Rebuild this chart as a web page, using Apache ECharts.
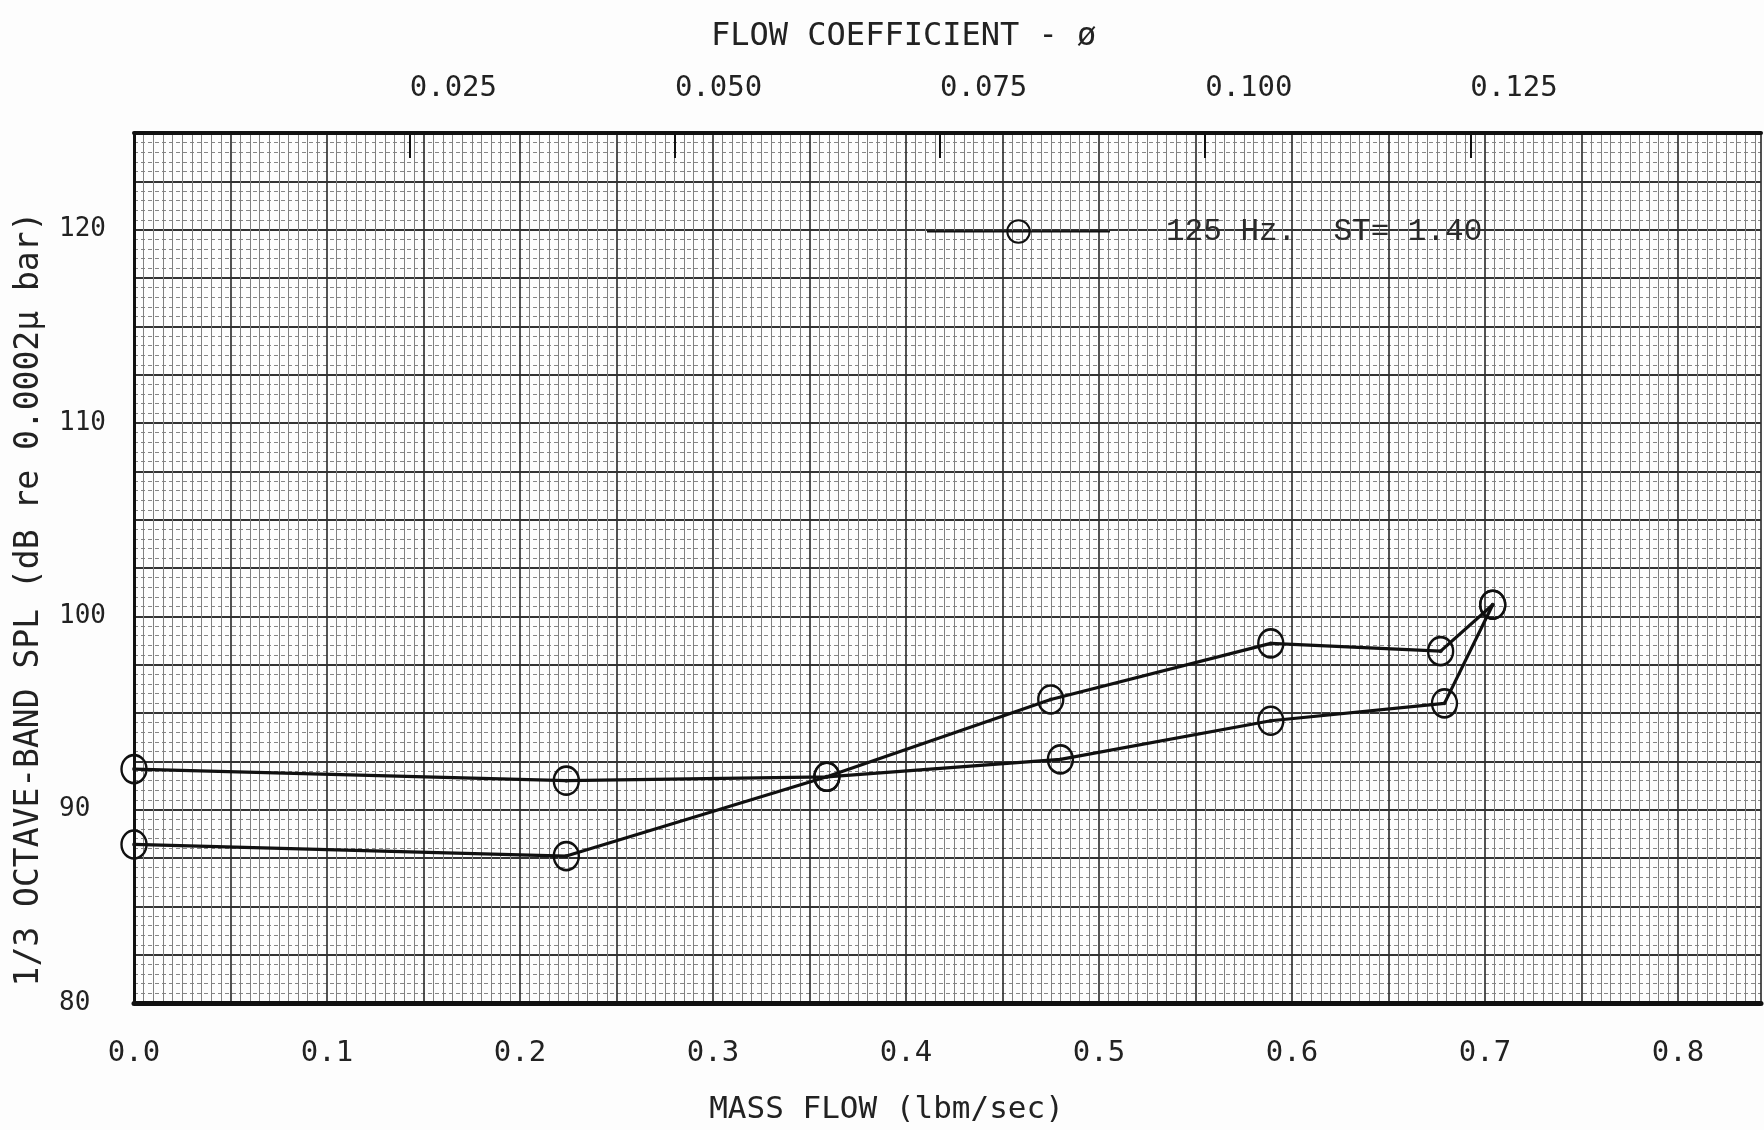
<!DOCTYPE html>
<html>
<head>
<meta charset="utf-8">
<script src="https://cdn.jsdelivr.net/npm/echarts@6/dist/echarts.min.js"></script>
<style>
html,body{margin:0;padding:0;background:#fdfdfd;}
#chart{width:1764px;height:1130px;}
</style>
</head>
<body>
<div id="chart"></div>
<script>
// ---- data ----
const massUpperStart = [0.0, 0.224, 0.359, 0.480, 0.589, 0.679, 0.704];
const splUpperStart  = [92.1, 91.5, 91.7, 92.6, 94.6, 95.5, 100.6];
const massLowerStart = [0.0, 0.224, 0.359, 0.475, 0.589, 0.677, 0.704];
const splLowerStart  = [88.2, 87.6, 91.7, 95.7, 98.6, 98.2, 100.6];
const massTickLabels = [0.0, 0.1, 0.2, 0.3, 0.4, 0.5, 0.6, 0.7, 0.8];
const splTickLabels  = [80, 90, 100, 110, 120];
const phiTickLabels  = [0.025, 0.050, 0.075, 0.100, 0.125];
const seriesName = '125 Hz.  ST= 1.40';

const pairs = (xs, ys) => xs.map((x, i) => [x, ys[i]]);
const dataA = pairs(massUpperStart, splUpperStart);
const dataB = pairs(massLowerStart, splLowerStart);

const MONO = '"DejaVu Sans Mono", "Liberation Mono", monospace';
const TYPE = '"Liberation Mono", "DejaVu Sans Mono", monospace';
const isMult = (v, step) => Math.abs(v / step - Math.round(v / step)) < 1e-6;

const chart = echarts.init(document.getElementById('chart'), null, {renderer: 'canvas'});

const lineSeries = (data) => ({
  name: seriesName,
  type: 'line',
  data: data,
  xAxisIndex: 0,
  yAxisIndex: 0,
  symbol: 'circle',
  symbolSize: [25, 28],
  showSymbol: true,
  lineStyle: {color: '#101010', width: 3.2},
  itemStyle: {color: 'rgba(0,0,0,0)', borderColor: '#101010', borderWidth: 2.5},
  z: 5,
  animation: false
});
const dotSeries = (data) => ({
  name: 'dot',
  type: 'scatter',
  data: data,
  symbolSize: 4,
  itemStyle: {color: '#141414'},
  z: 6,
  animation: false
});

chart.setOption({
  backgroundColor: '#fdfdfd',
  animation: false,
  title: {
    text: 'FLOW COEFFICIENT - ø',
    left: 706, top: 16,
    textStyle: {fontFamily: MONO, fontSize: 32, fontWeight: 'normal', color: '#222'}
  },
  legend: {
    data: [seriesName],
    left: 921, top: 211,
    itemWidth: 183, itemHeight: 28,
    textStyle: {fontFamily: TYPE, fontSize: 31, color: '#2a2a2a', padding: [0, 0, 0, 51]},
    inactiveColor: '#141414'
  },
  grid: {left: 134, right: 0, top: 133, bottom: 118},
  xAxis: [
    {
      type: 'value', position: 'bottom',
      min: 0, max: 0.843, interval: 0.05,
      name: 'MASS FLOW (lbm/sec)', nameLocation: 'middle', nameGap: 91,
      nameTextStyle: {fontFamily: MONO, fontSize: 31, color: '#222', padding: [0, 122, 0, 0]},
      axisLine: {show: true, lineStyle: {color: '#111', width: 5}},
      axisTick: {show: false},
      axisLabel: {
        margin: 36, fontFamily: MONO, fontSize: 29, color: '#222',
        formatter: v => (massTickLabels.some(t => Math.abs(t - v) < 1e-6) ? v.toFixed(1) : '')
      },
      splitLine: {show: true, lineStyle: {color: '#333', width: 1.7}},
      minorTick: {show: false, splitNumber: 10},
      minorSplitLine: {show: true, lineStyle: {color: '#808080', width: 1}}
    },
    {
      type: 'value', position: 'top',
      min: -0.001, max: 0.15241,
      axisLine: {show: true, lineStyle: {color: '#111', width: 4}},
      axisTick: {show: true, inside: true, length: 25, customValues: phiTickLabels, lineStyle: {color: '#111', width: 2}},
      axisLabel: {
        customValues: phiTickLabels, align: 'left', margin: 30,
        fontFamily: MONO, fontSize: 29, color: '#222',
        formatter: v => v.toFixed(3)
      },
      splitLine: {show: false}
    }
  ],
  yAxis: [
    {
      type: 'value', position: 'left',
      min: 80, max: 125, interval: 2.5,
      name: '1/3 OCTAVE-BAND SPL (dB re 0.0002μ bar)', nameLocation: 'middle', nameGap: 88,
      nameTextStyle: {fontFamily: MONO, fontSize: 33, color: '#222', padding: [0, 62, 0, 0]},
      axisLine: {show: true, lineStyle: {color: '#111', width: 3}},
      axisTick: {show: false},
      axisLabel: {
        align: 'left', margin: 75, verticalAlign: 'middle', padding: [0, 0, 30, 0],
        fontFamily: MONO, fontSize: 26, color: '#222',
        formatter: v => (splTickLabels.indexOf(Math.round(v)) >= 0 && isMult(v, 10) ? String(Math.round(v)) : '')
      },
      splitLine: {show: true, lineStyle: {color: '#333', width: 1.8}},
      minorTick: {show: false, splitNumber: 5},
      minorSplitLine: {show: true, lineStyle: {color: '#858585', width: 1, type: [4, 3]}}
    }
  ],
  series: [
    lineSeries(dataA),
    lineSeries(dataB),
    dotSeries(dataA),
    dotSeries(dataB)
  ]
});
</script>
</body>
</html>
